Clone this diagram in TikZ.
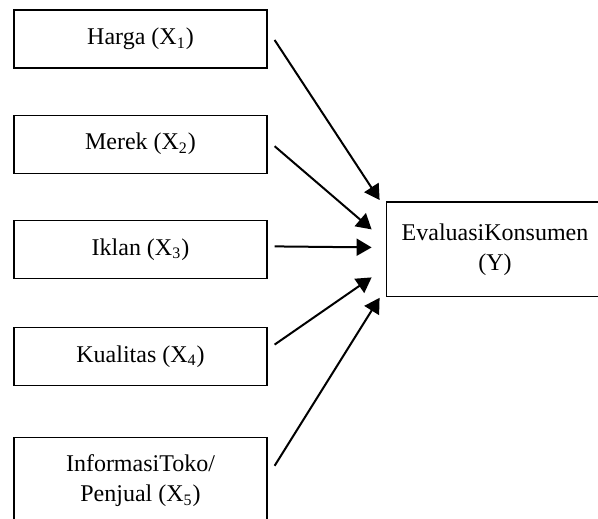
\documentclass[tikz,border=0pt]{standalone}
\usepackage{fontspec}
\setmainfont{Liberation Serif}
\usepackage{tikz}
\usetikzlibrary{positioning, arrows.meta}
\tikzstyle{factor} = [
    rectangle,
    draw,
    line width = 0.6pt,
    text centered,
    align = center,
    minimum width = 126.5pt,
    minimum height = 29pt
]
\tikzstyle{target} = [
    rectangle,
    text centered,
    align = center,
    minimum width = 108pt,
    minimum height = 47pt
]
\tikzstyle{effect} = [
    line width = 1pt,
    -{Triangle[length = 7.5pt, width = 8.5pt]}
]
\begin{document}
\begin{tikzpicture}[font = \fontsize{12}{15}\selectfont]

                \useasboundingbox (-70.25pt, 19.5pt) rectangle (228.75pt, -239.5pt);
                \clip (-70.25pt, 19.5pt) rectangle (228.75pt, -239.5pt);

                % X1 to X5
                \node [factor] (harga) at (0, 0) {Harga (X\textsubscript{1})};
                \node [factor, below = 23pt of harga] (merek) {Merek (X\textsubscript{2})};
                \node [factor, below = 23pt of merek] (iklan) {Iklan (X\textsubscript{3})};
                \node [factor, below = 24pt of iklan] (kualitas) {Kualitas (X\textsubscript{4})};
                \node [factor, below = 25.5pt of kualitas, minimum height = 43pt] (informasi) {InformasiToko/\\Penjual (X\textsubscript{5})};

                % Y (cut off at the right edge)
                \node [target, right = 59.5pt of iklan] (evaluasi) {EvaluasiKonsumen\\(Y)};
                \draw [line width = 0.6pt] (evaluasi.north east) -- (evaluasi.north west) -- (evaluasi.south west) -- (evaluasi.south east);

                \draw [effect] ([xshift = 3.5pt, yshift = -0.5pt] harga.east) -- ([xshift = -3.5pt, yshift = 1pt] evaluasi.north west);
                \draw [effect] ([xshift = 3.5pt, yshift = -1pt] merek.east) -- ([xshift = -7.5pt, yshift = 10pt] evaluasi.west);
                \draw [effect] ([xshift = 3.5pt, yshift = 1.5pt] iklan.east) -- ([xshift = -7.5pt, yshift = 1pt] evaluasi.west);
                \draw [effect] ([xshift = 3.5pt, yshift = 6pt] kualitas.east) -- ([xshift = -7.5pt, yshift = -14pt] evaluasi.west);
                \draw [effect] ([xshift = 3.5pt, yshift = 7.5pt] informasi.east) -- ([xshift = -3.5pt, yshift = -0.5pt] evaluasi.south west);

            \end{tikzpicture}
\end{document}
